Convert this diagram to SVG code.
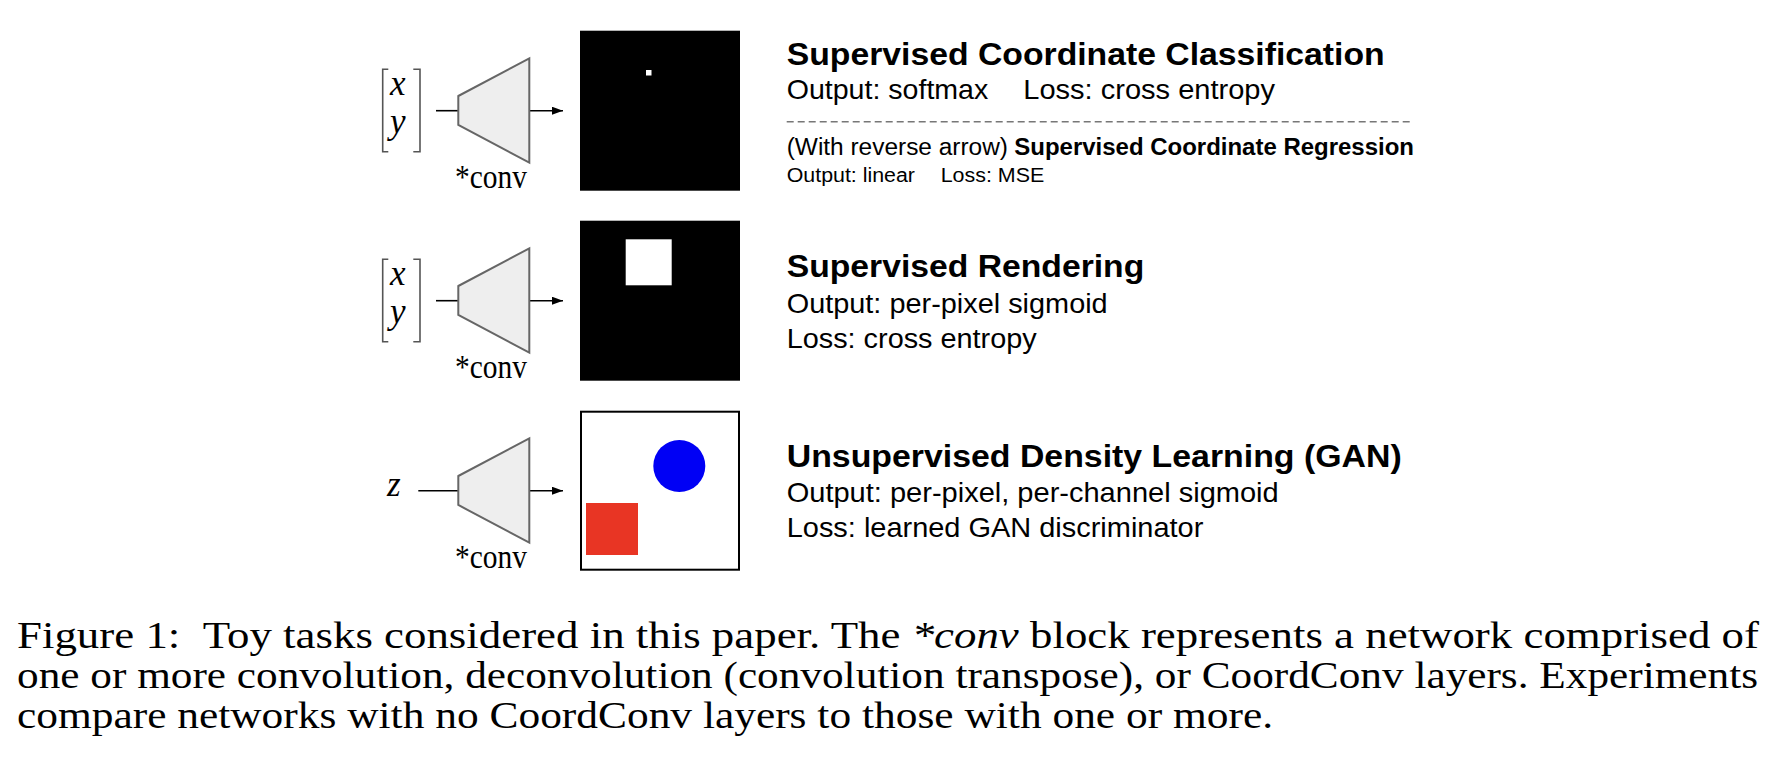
<svg xmlns="http://www.w3.org/2000/svg" width="1790" height="770" viewBox="0 0 1790 770">
<defs>
<style>
.sans{font-family:"Liberation Sans",Arial,sans-serif;fill:#000}
.b{font-weight:bold}
.serif{font-family:"Liberation Serif","Times New Roman",serif;fill:#000}
.it{font-style:italic}
.brk{fill:none;stroke:#555;stroke-width:1.6}
.trap{fill:#eeeeee;stroke:#666;stroke-width:2}
.wire{stroke:#000;stroke-width:1.6;fill:none}
</style>
<marker id="ah" viewBox="0 0 11 8" refX="11" refY="4" markerWidth="11" markerHeight="8" markerUnits="userSpaceOnUse" orient="auto">
<path d="M0,0 L11,4 L0,8 z" fill="#000"/>
</marker>
</defs>
<rect width="1790" height="770" fill="#fff"/>

<g id="connectors">
<line class="wire" x1="436" y1="110.7" x2="458.3" y2="110.7"/>
<line class="wire" x1="529.3" y1="110.7" x2="563" y2="110.7" marker-end="url(#ah)"/>
<line class="wire" x1="436" y1="300.7" x2="458.3" y2="300.7"/>
<line class="wire" x1="529.3" y1="300.7" x2="563" y2="300.7" marker-end="url(#ah)"/>
<line class="wire" x1="418.3" y1="490.7" x2="458.3" y2="490.7"/>
<line class="wire" x1="529.3" y1="490.7" x2="563" y2="490.7" marker-end="url(#ah)"/>
</g>

<g id="input1">
<path class="brk" d="M388.3,69.3 H382.7 V151.7 H388.3"/>
<path class="brk" d="M413.3,69.3 H420 V151.7 H413.3"/>
<text class="serif it" x="390" y="95" font-size="35">x</text>
<text class="serif it" x="390" y="132.5" font-size="35">y</text>
</g>
<g id="conv1">
<polygon class="trap" points="458.3,96 529.3,58.3 529.3,162.7 458.3,125"/>
<text class="serif" x="455" y="187.5" font-size="34" textLength="72" lengthAdjust="spacingAndGlyphs">*conv</text>
</g>
<g id="image1">
<rect x="580" y="30.7" width="160" height="160" fill="#000"/>
<rect x="646" y="70" width="5.5" height="5.5" fill="#fff"/>
</g>
<g id="desc1">
<text class="sans b" x="786.7" y="64.8" font-size="31.5" textLength="598" lengthAdjust="spacingAndGlyphs">Supervised Coordinate Classification</text>
<text class="sans" x="786.7" y="99" font-size="27.5" textLength="201.6" lengthAdjust="spacingAndGlyphs">Output: softmax</text>
<text class="sans" x="1023.3" y="99" font-size="27.5" textLength="251.7" lengthAdjust="spacingAndGlyphs">Loss: cross entropy</text>
<line x1="786.7" y1="121.7" x2="1411.7" y2="121.7" stroke="#777" stroke-width="1.5" stroke-dasharray="7 4"/>
<text class="sans" x="786.7" y="155" font-size="23.5" textLength="221.3" lengthAdjust="spacingAndGlyphs">(With reverse arrow)</text>
<text class="sans b" x="1014.3" y="155" font-size="23.5" textLength="399.7" lengthAdjust="spacingAndGlyphs">Supervised Coordinate Regression</text>
<text class="sans" x="786.7" y="181.7" font-size="20" textLength="128.3" lengthAdjust="spacingAndGlyphs">Output: linear</text>
<text class="sans" x="940.7" y="181.7" font-size="20" textLength="103.6" lengthAdjust="spacingAndGlyphs">Loss: MSE</text>
</g>

<g id="input2">
<path class="brk" d="M388.3,259.3 H382.7 V341.7 H388.3"/>
<path class="brk" d="M413.3,259.3 H420 V341.7 H413.3"/>
<text class="serif it" x="390" y="285" font-size="35">x</text>
<text class="serif it" x="390" y="322.5" font-size="35">y</text>
</g>
<g id="conv2">
<polygon class="trap" points="458.3,286 529.3,248.3 529.3,352.7 458.3,315"/>
<text class="serif" x="455" y="377.5" font-size="34" textLength="72" lengthAdjust="spacingAndGlyphs">*conv</text>
</g>
<g id="image2">
<rect x="580" y="220.7" width="160" height="160" fill="#000"/>
<rect x="625.7" y="239.3" width="46" height="46" fill="#fff"/>
</g>
<g id="desc2">
<text class="sans b" x="786.7" y="277" font-size="31.5" textLength="357.6" lengthAdjust="spacingAndGlyphs">Supervised Rendering</text>
<text class="sans" x="786.7" y="313.3" font-size="27.5" textLength="321" lengthAdjust="spacingAndGlyphs">Output: per-pixel sigmoid</text>
<text class="sans" x="786.7" y="348.3" font-size="27.5" textLength="250" lengthAdjust="spacingAndGlyphs">Loss: cross entropy</text>
</g>

<g id="input3">
<text class="serif it" x="387" y="496" font-size="35">z</text>
</g>
<g id="conv3">
<polygon class="trap" points="458.3,476 529.3,438.3 529.3,542.7 458.3,505"/>
<text class="serif" x="455" y="567.5" font-size="34" textLength="72" lengthAdjust="spacingAndGlyphs">*conv</text>
</g>
<g id="image3">
<rect x="581" y="411.7" width="158" height="158" fill="#fff" stroke="#000" stroke-width="2"/>
<circle cx="679.3" cy="466" r="26" fill="#0000f5"/>
<rect x="586" y="503" width="52" height="52" fill="#e83524"/>
</g>
<g id="desc3">
<text class="sans b" x="786.7" y="467" font-size="31.5" textLength="615" lengthAdjust="spacingAndGlyphs">Unsupervised Density Learning (GAN)</text>
<text class="sans" x="786.7" y="501.7" font-size="27.5" textLength="492" lengthAdjust="spacingAndGlyphs">Output: per-pixel, per-channel sigmoid</text>
<text class="sans" x="786.7" y="536.7" font-size="27.5" textLength="416.6" lengthAdjust="spacingAndGlyphs">Loss: learned GAN discriminator</text>
</g>

<g id="caption">
<text class="serif" x="17" y="648" font-size="38" textLength="1742" lengthAdjust="spacingAndGlyphs">Figure 1:<tspan>&#160;&#160;</tspan>Toy tasks considered in this paper. The <tspan class="it">*conv</tspan> block represents a network comprised of</text>
<text class="serif" x="17" y="688" font-size="38" textLength="1741" lengthAdjust="spacingAndGlyphs">one or more convolution, deconvolution (convolution transpose), or CoordConv layers. Experiments</text>
<text class="serif" x="17" y="728" font-size="38" textLength="1256" lengthAdjust="spacingAndGlyphs">compare networks with no CoordConv layers to those with one or more.</text>
</g>
</svg>
